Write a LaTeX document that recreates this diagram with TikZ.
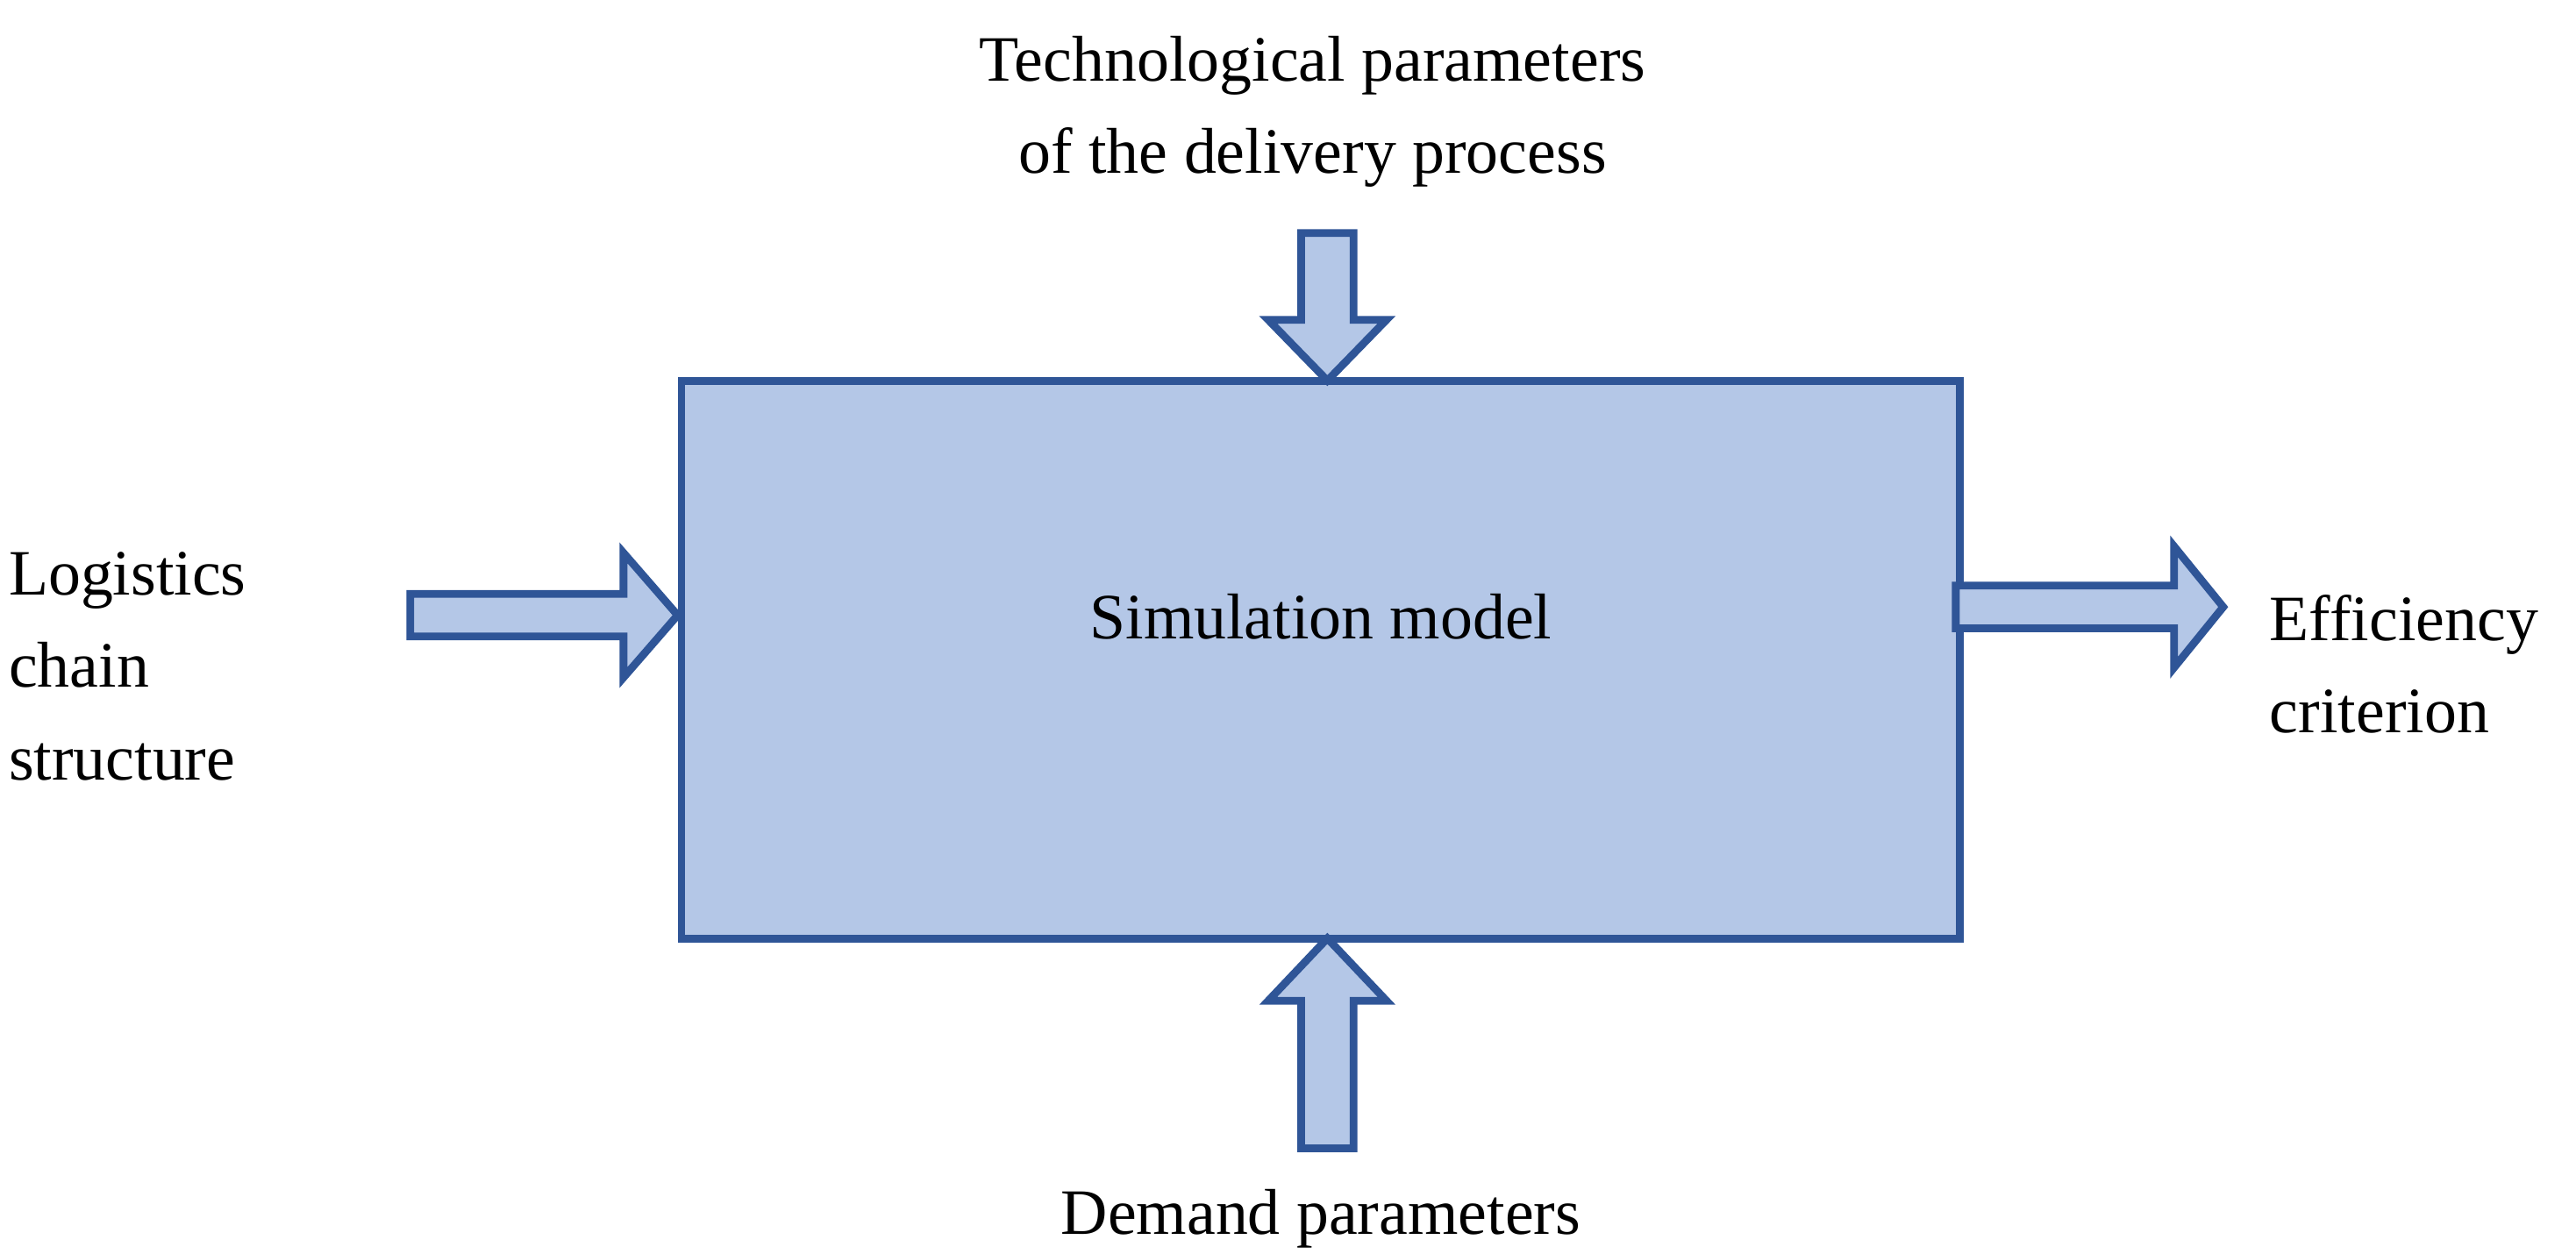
\documentclass[tikz,border=0pt]{standalone}
\usepackage{fontspec}
\setmainfont{Liberation Serif}
\definecolor{bfill}{HTML}{B4C7E7}
\definecolor{bline}{HTML}{2F5597}
\begin{document}
\begin{tikzpicture}[x=0.018707cm,y=-0.018707cm,
  blk/.style={draw=bline,fill=bfill,line width=2.5pt,line join=miter},
  lbl/.style={font=\fontsize{21}{30}\selectfont,align=center,inner sep=0pt}]
\useasboundingbox (0,0) rectangle (1570,764);
\node[blk,minimum width=779*0.018707cm,minimum height=340*0.018707cm,anchor=north west] (box) at (413,230) {};
\node[lbl] (sim) at (805,376) {Simulation model};
% top arrow
\draw[blk] (793,142) -- (825,142) -- (825,195) -- (845,195) -- (809,232) -- (773,195) -- (793,195) -- cycle;
% bottom arrow
\draw[blk] (809,572) -- (845,610) -- (825,610) -- (825,700) -- (793,700) -- (793,610) -- (773,610) -- cycle;
% left arrow
\draw[blk] (250,362) -- (380,362) -- (380,337) -- (413,375) -- (380,413) -- (380,388) -- (250,388) -- cycle;
% right arrow
\draw[blk] (1192,357) -- (1325,357) -- (1325,333) -- (1355,370) -- (1325,407) -- (1325,383) -- (1192,383) -- cycle;
\node[lbl] (top) at (800,68) {Technological parameters\\of the delivery process};
\node[lbl] (bot) at (805,743) {Demand parameters};
\node[lbl,align=left,anchor=west] (left) at (5,406) {Logistics\\chain\\structure};
\node[lbl,align=left,anchor=west] (right) at (1383,405) {Efficiency\\criterion};
\end{tikzpicture}
\end{document}
